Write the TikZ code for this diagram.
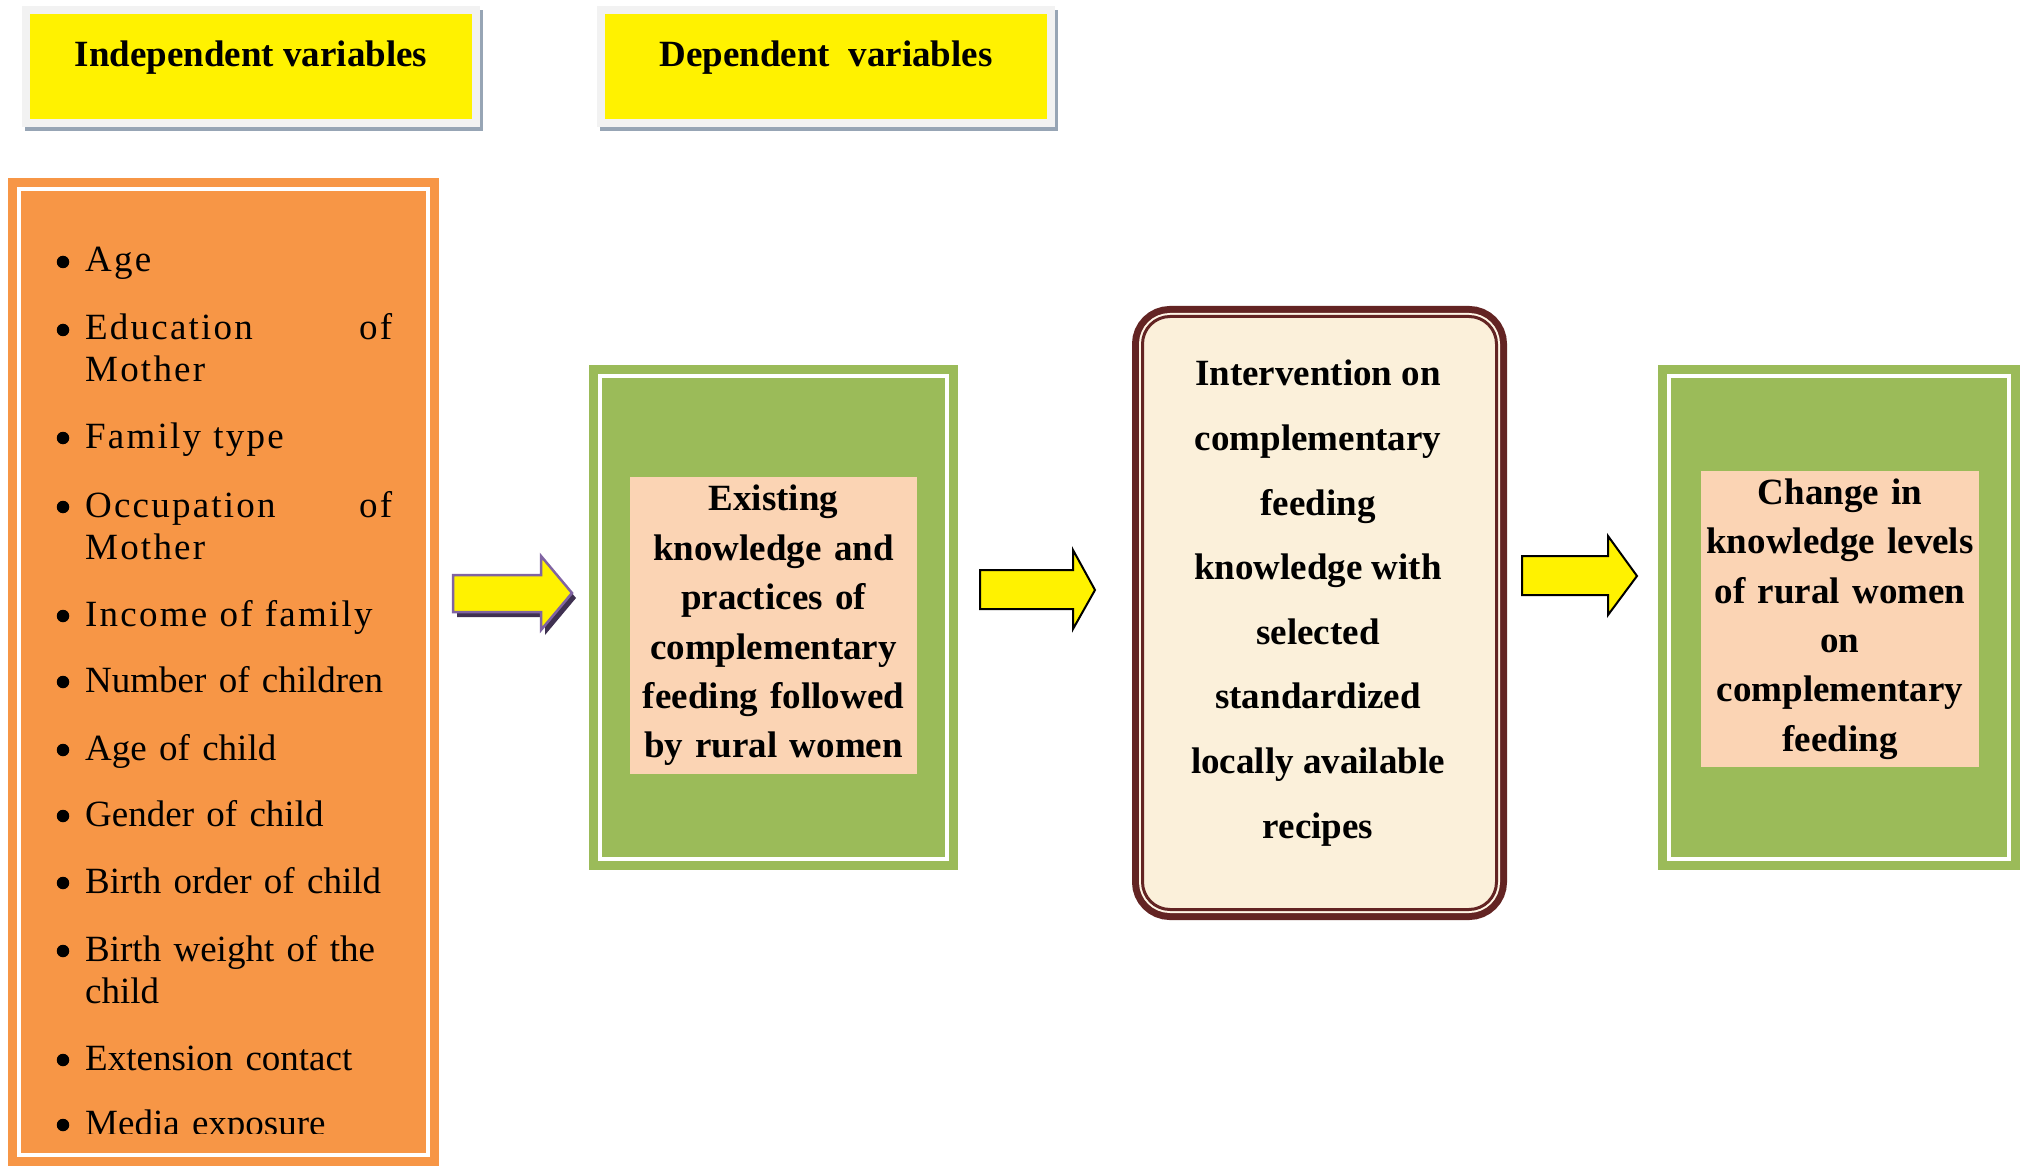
\documentclass[tikz,border=0pt]{standalone}
\usepackage{fontspec}
\setmainfont{Liberation Serif}
\newfontfamily\spacedfont[LetterSpace=6]{Liberation Serif}
\usepackage{tikz}
\definecolor{Varorange}{HTML}{F79646}
\definecolor{Leaf}{HTML}{9BBB59}
\definecolor{Peach}{HTML}{FBD4B4}
\definecolor{Frame}{HTML}{F2F2F2}
\definecolor{Slate}{HTML}{97A5B5}
\definecolor{Maroon}{HTML}{632423}
\definecolor{Parchment}{HTML}{FBF0DA}
\definecolor{Cream}{HTML}{FFF6E6}
\definecolor{Lilac}{HTML}{8064A2}
\definecolor{Plum}{HTML}{3F3151}

\tikzset{
  headbox/.style={fill=yellow,draw=Frame,line width=8pt,inner sep=0pt,minimum width=450pt,minimum height=113pt,
    preaction={draw=Slate,fill=Slate,line width=8pt,transform canvas={shift={(3pt,-4pt)}}}},
  headlbl/.style={anchor=base,inner sep=0pt,font=\fontsize{37}{42}\selectfont\bfseries},
  varbox/.style={fill=Varorange,draw=Varorange,line width=9pt,double=white,double distance=4pt,inner sep=0pt,minimum width=409pt,minimum height=966pt},
  bulletmark/.style={circle,fill=black,inner sep=0pt,minimum size=12.5pt},
  listitem/.style={anchor=base west,inner sep=0pt,text width=307pt,align=left,font=\fontsize{37}{42}\selectfont},
  stagebox/.style={fill=Leaf,draw=Leaf,line width=9pt,double=white,double distance=4pt,inner sep=0pt,minimum height=483pt},
  stagetxt/.style={fill=Peach,inner sep=0pt,align=center,font=\fontsize{37}{49.4}\selectfont\bfseries},
  intervbox/.style={fill=Parchment,draw=Maroon,line width=3pt,rounded corners=27.5pt,inner sep=0pt,minimum width=354pt,minimum height=593pt,
    preaction={draw=Maroon,line width=21pt},preaction={draw=Cream,line width=7pt}},
  intervtxt/.style={align=center,inner sep=0pt,font=\fontsize{37}{64.6}\selectfont\bfseries},
  blockarrow/.style={fill=yellow,draw=black,line width=2pt},
  purplearrow/.style={fill=yellow,draw=Lilac,line width=2.5pt},
  arrowshadow/.style={fill=Plum}
}

\begin{document}
\begin{tikzpicture}[x=1pt,y=-1pt]
\useasboundingbox (0,0) rectangle (2022,1166);
% headings
\node[headbox] (indep) at (251,66.5) {};
\node[headlbl] (indeplbl) at (251,67) {Independent variables};
\node[headbox] (dep) at (826,66.5) {};
\node[headlbl] (deplbl) at (826,67) {Dependent\ \ variables};
% independent variables
\node[varbox] (vars) at (223.5,672) {};
\begin{scope}
\clip (19,189) rectangle (428,1133);
\foreach \y/\s [count=\i] in {272/{\spacedfont Age},340/{\spacedfont Education\hfill of\\Mother},448/{\spacedfont Family type},517/{\spacedfont Occupation\hfill of\\Mother},626/{\spacedfont Income of family},692/Number of children,760/Age of child,826/Gender of child,893/Birth order of child,961/Birth weight of the\\child,1070/Extension contact,1135/Media exposure} {\node[bulletmark] (b\i) at (63,\y-10) {}; \node[listitem] (v\i) at (85,\y) {\s};}
\end{scope}
% arrows
\fill[arrowshadow] (457,580) -- (545,580) -- (545,561) -- (576,598) -- (545,635) -- (545,617) -- (457,617) -- cycle;
\draw[purplearrow] (453,575) -- (541,575) -- (541,556) -- (572,593) -- (541,630) -- (541,612) -- (453,612) -- cycle;
\draw[blockarrow] (980,570) -- (1073,570) -- (1073,550) -- (1095,590) -- (1073,629) -- (1073,609) -- (980,609) -- cycle;
\draw[blockarrow] (1522,556) -- (1608,556) -- (1608,536) -- (1637,576) -- (1608,615) -- (1608,595) -- (1522,595) -- cycle;
% stages
\node[stagebox,minimum width=347pt] (existing) at (773.5,617.5) {};
\node[stagetxt,text width=287pt,minimum height=297pt] (existingtxt) at (773.5,625.5) {Existing\\knowledge and\\practices of\\complementary\\feeding followed\\by rural women};
\node[intervbox] (interv) at (1319.5,613) {};
\node[intervtxt] (intervlbl) at (1318,603) {Intervention on\\complementary\\feeding\\knowledge with\\selected\\standardized\\locally available\\recipes};
\node[stagebox,minimum width=340pt] (change) at (1839,617.5) {};
\node[stagetxt,text width=278pt,minimum height=296pt] (changetxt) at (1840,619) {Change in\\knowledge levels\\of rural women\\on\\complementary\\feeding};
\end{tikzpicture}
\end{document}
